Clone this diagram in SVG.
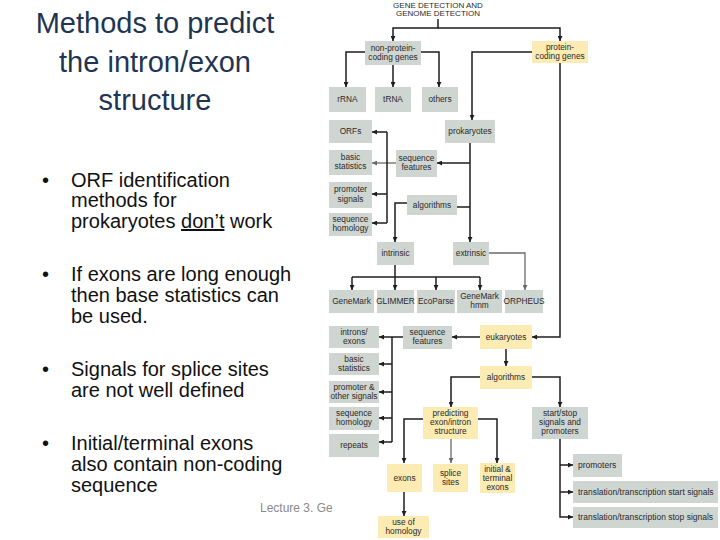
<svg xmlns="http://www.w3.org/2000/svg" width="720" height="540" viewBox="0 0 720 540">
<style>
.bg{fill:#ffffff}
.g{fill:#cfd5d1}
.y{fill:#fcebb2}
.t{font-family:"Liberation Sans",Arial,sans-serif;font-size:8.3px;fill:#2a2a2a;text-anchor:middle}
.tl{font-family:"Liberation Sans",Arial,sans-serif;font-size:8.5px;fill:#2a2a2a;text-anchor:start}
.hd{font-family:"Liberation Sans",Arial,sans-serif;font-size:8px;fill:#2a2a2a;text-anchor:middle}
.c{fill:none;stroke:#1e1e1e;stroke-width:1.5}
.cg{fill:none;stroke:#6a6a6a;stroke-width:1.3}
.title{font-family:"Liberation Sans",Arial,sans-serif;font-size:29px;fill:#1f3552;text-anchor:middle}
.b{font-family:"Liberation Sans",Arial,sans-serif;font-size:20px;fill:#111}
.foot{font-family:"Liberation Sans",Arial,sans-serif;font-size:12px;fill:#8a8a8a}
</style>
<defs>
<marker id="ah" markerUnits="userSpaceOnUse" markerWidth="5" markerHeight="5" refX="5" refY="2.5" orient="auto">
<path d="M0,0 L5,2.5 L0,5 z" fill="#1e1e1e"/>
</marker>
<marker id="ahg" markerUnits="userSpaceOnUse" markerWidth="5" markerHeight="5" refX="5" refY="2.5" orient="auto">
<path d="M0,0 L5,2.5 L0,5 z" fill="#6a6a6a"/>
</marker>
</defs>
<rect class="bg" x="0" y="0" width="720" height="540"/>

<g id="slide-text">
<text class="title" x="155" y="33">Methods to predict</text>
<text class="title" x="155" y="72">the intron/exon</text>
<text class="title" x="155" y="110">structure</text>

<text class="b" x="42" y="187">•</text>
<text class="b" x="71" y="187">ORF identification</text>
<text class="b" x="71" y="207">methods for</text>
<text class="b" x="71" y="228">prokaryotes <tspan text-decoration="underline">don’t</tspan> work</text>

<text class="b" x="42" y="281">•</text>
<text class="b" x="71" y="281">If exons are long enough</text>
<text class="b" x="71" y="302">then base statistics can</text>
<text class="b" x="71" y="323">be used.</text>

<text class="b" x="42" y="376">•</text>
<text class="b" x="71" y="376">Signals for splice sites</text>
<text class="b" x="71" y="397">are not well defined</text>

<text class="b" x="42" y="450">•</text>
<text class="b" x="71" y="450">Initial/terminal exons</text>
<text class="b" x="71" y="471">also contain non-coding</text>
<text class="b" x="71" y="492">sequence</text>

<text class="foot" x="260" y="512">Lecture 3. Ge</text>
</g>

<g id="connectors">
<path class="c" d="M438,19 V28 H393 V41" marker-end="url(#ah)"/>
<path class="c" d="M438,28 H560 V41" marker-end="url(#ah)"/>
<path class="c" d="M365,52 H346 V87" marker-end="url(#ah)"/>
<path class="c" d="M421,52 H439 V87" marker-end="url(#ah)"/>
<path class="c" d="M393,65 V87" marker-end="url(#ah)"/>
<path class="c" d="M532,52 H472 V120" marker-end="url(#ah)"/>
<path class="c" d="M560,63 V337 H532" marker-end="url(#ah)"/>
<path class="c" d="M470,143 V242" marker-end="url(#ah)"/>
<path class="c" d="M470,163 H437" marker-end="url(#ah)"/>
<path class="c" d="M457,207 H470"/>
<path class="c" d="M407,203 H395 V242" marker-end="url(#ah)"/>
<path class="cg" d="M396,163 H372" marker-end="url(#ahg)"/>
<path class="c" d="M387,132 V223"/>
<path class="c" d="M387,132 H372" marker-end="url(#ah)"/>
<path class="c" d="M387,194 H372" marker-end="url(#ah)"/>
<path class="c" d="M387,223 H372" marker-end="url(#ah)"/>
<path class="c" d="M395,265 V277"/>
<path class="c" d="M352,277 H480"/>
<path class="c" d="M352,277 V290" marker-end="url(#ah)"/>
<path class="c" d="M395,277 V290" marker-end="url(#ah)"/>
<path class="c" d="M436,277 V290" marker-end="url(#ah)"/>
<path class="c" d="M480,277 V290" marker-end="url(#ah)"/>
<path class="cg" d="M489,253 H525 V290" marker-end="url(#ahg)"/>
<path class="c" d="M480,337 H452" marker-end="url(#ah)"/>
<path class="c" d="M403,337 H379" marker-end="url(#ah)"/>
<path class="c" d="M392,337 V442"/>
<path class="c" d="M392,364 H379" marker-end="url(#ah)"/>
<path class="c" d="M392,392 H379" marker-end="url(#ah)"/>
<path class="c" d="M392,418 H379" marker-end="url(#ah)"/>
<path class="c" d="M392,442 H379" marker-end="url(#ah)"/>
<path class="c" d="M506,349 V366" marker-end="url(#ah)"/>
<path class="c" d="M480,377 H451 V407" marker-end="url(#ah)"/>
<path class="c" d="M532,377 H560 V407" marker-end="url(#ah)"/>
<path class="c" d="M423,419 H404 V463" marker-end="url(#ah)"/>
<path class="cg" d="M451,439 V463" marker-end="url(#ahg)"/>
<path class="c" d="M478,419 H497 V463" marker-end="url(#ah)"/>
<path class="c" d="M404,492 V516" marker-end="url(#ah)"/>
<path class="c" d="M560,439 V517 H573" marker-end="url(#ah)"/>
<path class="c" d="M560,465 H573" marker-end="url(#ah)"/>
<path class="c" d="M560,492 H573" marker-end="url(#ah)"/>
</g>

<g id="header"><text class="hd" x="438" y="7.5">GENE DETECTION AND</text><text class="hd" x="438" y="16">GENOME DETECTION</text></g>

<g id="non-protein"><rect class="g" x="365" y="41" width="56" height="24"/><text class="t" x="393" y="51">non-protein-</text><text class="t" x="393" y="60">coding genes</text></g>
<g id="protein"><rect class="y" x="532" y="41" width="56" height="22"/><text class="t" x="560" y="50">protein-</text><text class="t" x="560" y="59">coding genes</text></g>
<g id="rRNA"><rect class="g" x="329" y="87" width="37" height="25"/><text class="t" x="347.5" y="102">rRNA</text></g>
<g id="tRNA"><rect class="g" x="375" y="87" width="36" height="25"/><text class="t" x="393" y="102">tRNA</text></g>
<g id="others"><rect class="g" x="422" y="87" width="36" height="25"/><text class="t" x="440" y="102">others</text></g>
<g id="ORFs"><rect class="g" x="329" y="120" width="43" height="23"/><text class="t" x="350.5" y="134">ORFs</text></g>
<g id="prokaryotes"><rect class="g" x="445" y="120" width="50" height="23"/><text class="t" x="470" y="134">prokaryotes</text></g>
<g id="basic-stats-1"><rect class="g" x="329" y="150" width="43" height="25"/><text class="t" x="350.5" y="160">basic</text><text class="t" x="350.5" y="169">statistics</text></g>
<g id="seq-features-1"><rect class="g" x="396" y="150" width="41" height="27"/><text class="t" x="416.5" y="161">sequence</text><text class="t" x="416.5" y="170">features</text></g>
<g id="promoter-signals"><rect class="g" x="329" y="182" width="43" height="26"/><text class="t" x="350.5" y="192">promoter</text><text class="t" x="350.5" y="202">signals</text></g>
<g id="algorithms-1"><rect class="g" x="407" y="195" width="50" height="20"/><text class="t" x="432" y="208">algorithms</text></g>
<g id="seq-homology-1"><rect class="g" x="329" y="213" width="43" height="23"/><text class="t" x="350.5" y="222">sequence</text><text class="t" x="350.5" y="231">homology</text></g>
<g id="intrinsic"><rect class="g" x="377" y="242" width="37" height="23"/><text class="t" x="395.5" y="256">intrinsic</text></g>
<g id="extrinsic"><rect class="g" x="453" y="242" width="36" height="23"/><text class="t" x="471" y="256">extrinsic</text></g>
<g id="GeneMark"><rect class="g" x="329" y="290" width="45" height="23"/><text class="t" x="351.5" y="304">GeneMark</text></g>
<g id="GLIMMER"><rect class="g" x="377" y="290" width="37" height="23"/><text class="t" x="395.5" y="304">GLIMMER</text></g>
<g id="EcoParse"><rect class="g" x="417" y="290" width="38" height="23"/><text class="t" x="436" y="304">EcoParse</text></g>
<g id="GeneMark-hmm"><rect class="g" x="457" y="290" width="45" height="23"/><text class="t" x="479.5" y="299">GeneMark</text><text class="t" x="479.5" y="308">hmm</text></g>
<g id="ORPHEUS"><rect class="g" x="505" y="290" width="38" height="23"/><text class="t" x="524" y="304">ORPHEUS</text></g>
<g id="introns-exons"><rect class="g" x="329" y="326" width="50" height="22"/><text class="t" x="354" y="335">introns/</text><text class="t" x="354" y="344">exons</text></g>
<g id="seq-features-2"><rect class="g" x="403" y="326" width="49" height="23"/><text class="t" x="427.5" y="335">sequence</text><text class="t" x="427.5" y="344">features</text></g>
<g id="eukaryotes"><rect class="y" x="480" y="325" width="52" height="24"/><text class="t" x="506" y="340">eukaryotes</text></g>
<g id="basic-stats-2"><rect class="g" x="329" y="353" width="50" height="22"/><text class="t" x="354" y="362">basic</text><text class="t" x="354" y="371">statistics</text></g>
<g id="algorithms-2"><rect class="y" x="480" y="366" width="52" height="23"/><text class="t" x="506" y="380">algorithms</text></g>
<g id="promoter-other"><rect class="g" x="329" y="381" width="50" height="22"/><text class="t" x="354" y="390">promoter &amp;</text><text class="t" x="354" y="399">other signals</text></g>
<g id="seq-homology-2"><rect class="g" x="329" y="407" width="50" height="23"/><text class="t" x="354" y="416">sequence</text><text class="t" x="354" y="425">homology</text></g>
<g id="predicting"><rect class="y" x="423" y="407" width="55" height="32"/><text class="t" x="450.5" y="416">predicting</text><text class="t" x="450.5" y="425">exon/intron</text><text class="t" x="450.5" y="434">structure</text></g>
<g id="start-stop"><rect class="g" x="532" y="407" width="56" height="32"/><text class="t" x="560" y="416">start/stop</text><text class="t" x="560" y="425">signals and</text><text class="t" x="560" y="434">promoters</text></g>
<g id="repeats"><rect class="g" x="329" y="434" width="50" height="23"/><text class="t" x="354" y="448">repeats</text></g>
<g id="promoters"><rect class="g" x="573" y="454" width="49" height="23"/><text class="tl" x="578" y="468">promoters</text></g>
<g id="exons"><rect class="y" x="387" y="464" width="35" height="28"/><text class="t" x="404.5" y="481">exons</text></g>
<g id="splice-sites"><rect class="y" x="433" y="464" width="35" height="28"/><text class="t" x="450.5" y="476">splice</text><text class="t" x="450.5" y="485">sites</text></g>
<g id="initial-terminal"><rect class="y" x="480" y="463" width="35" height="30"/><text class="t" x="497.5" y="472">initial &amp;</text><text class="t" x="497.5" y="481">terminal</text><text class="t" x="497.5" y="490">exons</text></g>
<g id="start-signals"><rect class="g" x="573" y="481" width="145" height="22"/><text class="tl" x="578" y="495">translation/transcription start signals</text></g>
<g id="stop-signals"><rect class="g" x="573" y="507" width="145" height="21"/><text class="tl" x="578" y="520">translation/transcription stop signals</text></g>
<g id="use-of-homology"><rect class="y" x="378" y="516" width="51" height="22"/><text class="t" x="403.5" y="525">use of</text><text class="t" x="403.5" y="534">homology</text></g>
</svg>
